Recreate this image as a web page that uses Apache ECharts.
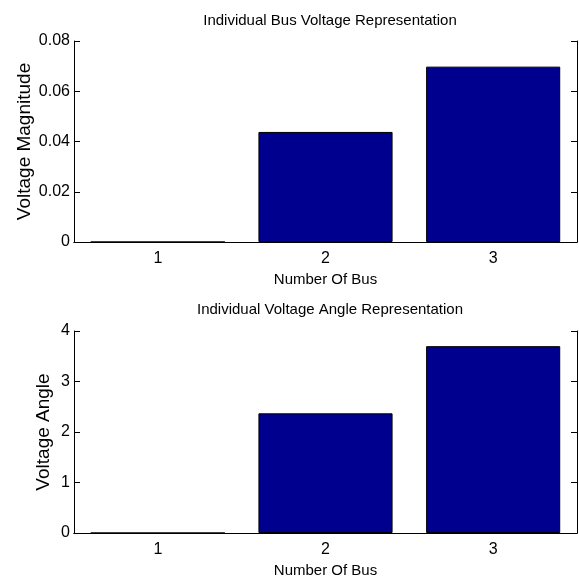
<!DOCTYPE html>
<html>
<head>
<meta charset="utf-8">
<script src="https://cdn.jsdelivr.net/npm/echarts@6/dist/echarts.min.js"></script>
<style>
  html, body { margin: 0; padding: 0; background: #fff; }
  #main { width: 579px; height: 583px; }
</style>
</head>
<body>
<div id="main"></div>
<script>
var myChart = echarts.init(document.getElementById("main"));

// data
var buses = ["1", "2", "3"];
var voltageMagnitude = [0, 0.0438, 0.0698];
var voltageAngle = [0, 2.37, 3.70];
var magTicks = [0, 0.02, 0.04, 0.06, 0.08];
var angleTicks = [0, 1, 2, 3, 4];

var FONT = "Liberation Sans, Arial, sans-serif";
var barColor = "#00008f";

function xAxes(gridIndex) {
  return [
    {
      type: "category",
      gridIndex: gridIndex,
      data: buses,
      name: "Number Of Bus",
      nameLocation: "middle",
      nameGap: 30,
      nameMoveOverlap: false,
      nameTextStyle: { fontFamily: FONT, fontSize: 15, color: "#000", verticalAlign: "top" },
      axisLine: { lineStyle: { color: "#000", width: 1 } },
      axisTick: { alignWithLabel: true, inside: true, length: 6, lineStyle: { color: "#000" } },
      axisLabel: { fontFamily: FONT, fontSize: 16, color: "#000", margin: 9 },
      splitLine: { show: false },
    },
    {
      type: "category",
      gridIndex: gridIndex,
      position: "top",
      data: buses,
      axisLine: { lineStyle: { color: "#000", width: 1 } },
      axisTick: { alignWithLabel: true, inside: true, length: 6, lineStyle: { color: "#000" } },
      axisLabel: { show: false },
      splitLine: { show: false },
    },
  ];
}

function yAxes(gridIndex, name, ticks, gap) {
  var step = ticks[1] - ticks[0];
  var top = ticks[ticks.length - 1];
  return [
    {
      type: "value",
      gridIndex: gridIndex,
      min: ticks[0],
      max: top,
      interval: step,
      name: name,
      nameLocation: "middle",
      nameGap: gap,
      nameMoveOverlap: false,
      nameTextStyle: { fontFamily: FONT, fontSize: 19, color: "#000" },
      axisLine: { show: true, lineStyle: { color: "#000", width: 1 } },
      axisTick: { show: true, inside: true, length: 6, lineStyle: { color: "#000" } },
      axisLabel: {
        fontFamily: FONT,
        fontSize: 16,
        color: "#000",
        margin: 4,
        formatter: function (v) {
          return step < 1 ? (v === 0 ? "0" : v.toFixed(2)) : String(v);
        },
      },
      splitLine: { show: false },
    },
    {
      type: "value",
      gridIndex: gridIndex,
      position: "right",
      min: ticks[0],
      max: top,
      interval: step,
      axisLine: { show: true, lineStyle: { color: "#000", width: 1 } },
      axisTick: { show: true, inside: true, length: 6, lineStyle: { color: "#000" } },
      axisLabel: { show: false },
      splitLine: { show: false },
    },
  ];
}

var option = {
  backgroundColor: "#fff",
  animation: false,
  title: [
    {
      text: "Individual Bus Voltage Representation",
      left: 325,
      textAlign: "center",
      top: 8,
      textStyle: { fontFamily: FONT, fontSize: 15, fontWeight: "normal", color: "#000" },
    },
    {
      text: "Individual Voltage Angle Representation",
      left: 325,
      textAlign: "center",
      top: 297,
      textStyle: { fontFamily: FONT, fontSize: 15, fontWeight: "normal", color: "#000" },
    },
  ],
  grid: [
    { left: 74, right: 2, top: 41, bottom: 341 },
    { left: 74, right: 2, top: 331, bottom: 50 },
  ],
  xAxis: xAxes(0).concat(xAxes(1)),
  yAxis: yAxes(0, "Voltage Magnitude", magTicks, 40).concat(yAxes(1, "Voltage Angle", angleTicks, 21)),
  series: [
    {
      type: "bar",
      xAxisIndex: 0,
      yAxisIndex: 0,
      data: voltageMagnitude,
      barCategoryGap: "20%",
      itemStyle: { color: barColor, borderColor: "#000", borderWidth: 1 },
    },
    {
      type: "bar",
      xAxisIndex: 2,
      yAxisIndex: 2,
      data: voltageAngle,
      barCategoryGap: "20%",
      itemStyle: { color: barColor, borderColor: "#000", borderWidth: 1 },
    },
  ],
};

myChart.setOption(option);
</script>
</body>
</html>
